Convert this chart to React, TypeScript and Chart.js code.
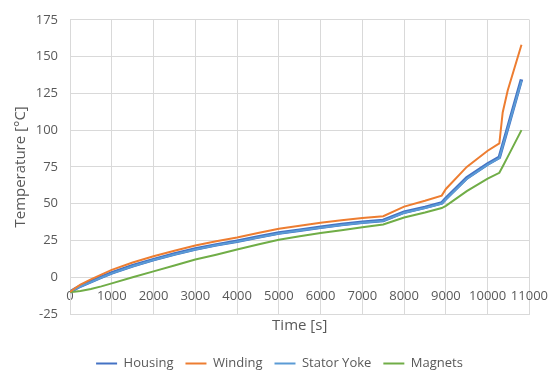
import React, { useEffect, useRef } from "react";
import { Chart, registerables } from "chart.js";

Chart.register(...registerables);

const times = [0, 100, 250, 500, 750, 1000, 1500, 2000, 2500, 3000, 3500, 4000, 4500, 5000, 5500, 6000, 6500, 7000, 7500, 8000, 8500, 8900, 9000, 9500, 10000, 10280, 10360, 10480, 10810];

const housing = [-10, -8.3, -6, -3, 0, 2.9, 7.8, 12, 15.8, 19.2, 22, 24.5, 27.3, 30, 32, 34, 35.8, 37.3, 38.6, 44.2, 47.5, 50.5, 53.5, 67.5, 77, 81.5, 89.5, 101.5, 134.5];
const winding = [-10, -7.8, -5, -1.5, 1.8, 5, 10, 14.2, 18, 21.5, 24.5, 27, 30, 33, 35, 37, 38.8, 40.2, 41.5, 48, 52, 55.5, 60, 75, 86, 91, 112, 127, 158];
const statorYoke = [-10, -8.5, -6.3, -3.3, -0.3, 2.6, 7.5, 11.7, 15.5, 18.9, 21.7, 24.2, 27, 29.7, 31.7, 33.7, 35.5, 37, 38.3, 43.8, 47.1, 50.1, 53, 67, 76.5, 81, 89, 101, 133.5];
const magnets = [-10, -9.8, -9.4, -8, -6.2, -4.2, 0, 4, 8, 12, 15.3, 18.8, 22.3, 25.5, 27.8, 30, 32, 34, 35.8, 40.6, 44, 47, 48.5, 58.5, 67, 71, 75.3, 81.8, 100];

const seriesNames = ["Housing", "Winding", "Stator Yoke", "Magnets"];
const xTicks = { min: 0, max: 11000, step: 1000 };
const yTicks = { min: -25, max: 175, step: 25 };

const FONT = "'Open Sans', 'Noto Sans', sans-serif";
const TXT = "#595959";
const GRID = "#d9d9d9";

export default function App() {
  const ref = useRef<HTMLCanvasElement | null>(null);
  useEffect(() => {
    if (!ref.current) return;
    const pts = (arr: number[]) => arr.map((v, i) => ({ x: times[i], y: v }));
    const legendShrink = {
      id: "legendShrink",
      beforeInit(chart: any) {
        const lg = chart.legend;
        if (!lg) return;
        const orig = lg.fit;
        lg.fit = function () {
          orig.call(lg);
          lg.height -= 8;
        };
      },
    };
    const chart = new Chart(ref.current, {
      type: "line",
      data: {
        datasets: [
          { label: seriesNames[0], data: pts(housing), borderColor: "#4472C4", backgroundColor: "#4472C4", borderWidth: 3.5, pointRadius: 0, tension: 0, order: 2 },
          { label: seriesNames[1], data: pts(winding), borderColor: "#ED7D31", backgroundColor: "#ED7D31", borderWidth: 2, pointRadius: 0, tension: 0, order: 0 },
          { label: seriesNames[2], data: pts(statorYoke), borderColor: "#5B9BD5", backgroundColor: "#5B9BD5", borderWidth: 2, pointRadius: 0, tension: 0, order: 1 },
          { label: seriesNames[3], data: pts(magnets), borderColor: "#70AD47", backgroundColor: "#70AD47", borderWidth: 2, pointRadius: 0, tension: 0, order: 0 },
        ],
      },
      plugins: [legendShrink],
      options: {
        animation: false,
        responsive: false,
        layout: { padding: { left: 0, right: 0, top: 12.5, bottom: 0 } },
        plugins: {
          tooltip: { enabled: false },
          legend: {
            position: "bottom",
            labels: {
              font: { family: FONT, size: 13 },
              color: TXT,
              boxWidth: 21,
              boxHeight: 2,
              padding: 12,
              sort: (a: any, b: any) => a.datasetIndex - b.datasetIndex,
              generateLabels: (c: any) =>
                Chart.defaults.plugins.legend.labels.generateLabels(c).map((l: any) => ({ ...l, lineWidth: 0 })),
            },
          },
        },
        scales: {
          x: {
            type: "linear",
            position: "bottom",
            min: xTicks.min,
            max: xTicks.max,
            ticks: { display: false, stepSize: xTicks.step },
            grid: { color: GRID, drawTicks: false },
            border: { color: GRID },
            title: { display: true, text: "Time [s]", color: TXT, font: { family: FONT, size: 15 }, padding: { top: 3, bottom: 10 } },
          },
          x2: {
            type: "linear",
            position: { y: 0 } as any,
            min: xTicks.min,
            max: xTicks.max,
            ticks: { stepSize: xTicks.step, color: TXT, font: { family: FONT, size: 13 }, padding: 11, maxRotation: 0, callback: (v: any) => String(v) },
            grid: { display: false, drawTicks: false },
            border: { display: false },
          },
          y: {
            type: "linear",
            min: yTicks.min,
            max: yTicks.max,
            ticks: { stepSize: yTicks.step, color: TXT, font: { family: FONT, size: 13 }, padding: 12, callback: (v: any) => String(v) },
            grid: { color: GRID, drawTicks: false },
            border: { color: GRID },
            title: { display: true, text: "Temperature [°C]", color: TXT, font: { family: FONT, size: 15 }, padding: { top: 12, bottom: 0 } },
            afterFit: (s: any) => { s.width = 70; },
          },
          yRight: {
            type: "linear",
            position: "right",
            display: true,
            ticks: { display: false },
            grid: { display: false, drawTicks: false },
            border: { display: false },
            afterFit: (s: any) => { s.width = 27; },
          },
        },
      },
    });
    return () => chart.destroy();
  }, []);
  return (
    <div style={{ position: "fixed", left: 0, top: 0, width: 559, height: 372, background: "#fff" }}>
      <canvas ref={ref} width={559} height={372} style={{ width: 559, height: 372 }} />
    </div>
  );
}
